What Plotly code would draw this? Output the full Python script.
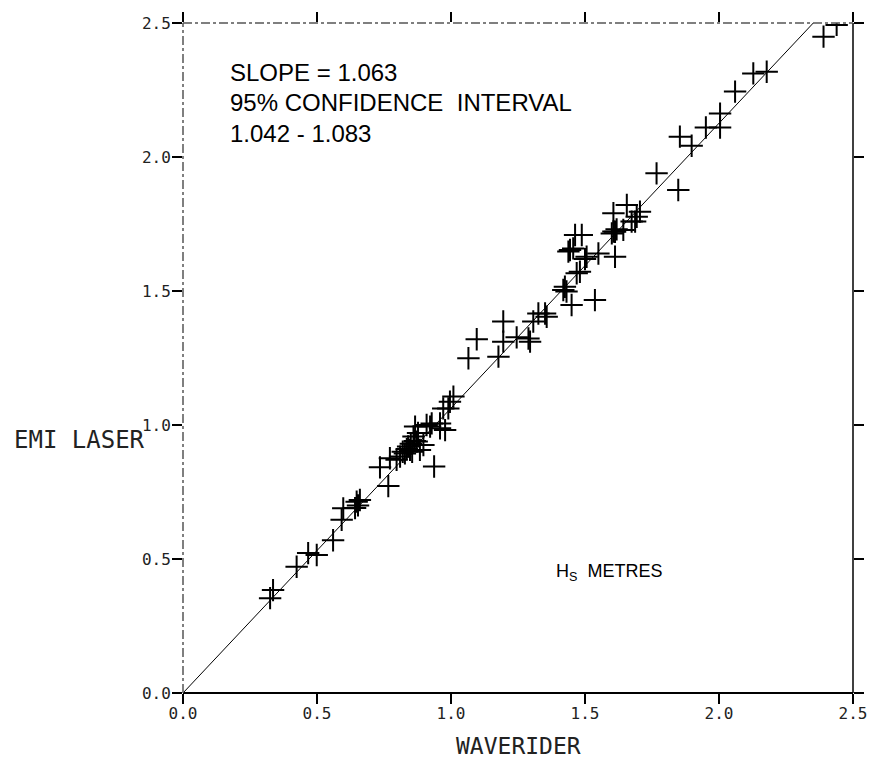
import plotly.graph_objects as go

waverider = [0.325, 0.336, 0.424, 0.467, 0.499, 0.560, 0.592, 0.598, 0.642, 0.648, 0.653, 0.660,
             0.735, 0.766, 0.772, 0.797, 0.810,
             0.820, 0.828, 0.835, 0.840, 0.847, 0.850, 0.855, 0.860, 0.865, 0.872, 0.866, 0.877, 0.884, 0.897,
             0.909, 0.922, 0.928, 0.937, 0.959, 0.959, 0.978, 0.971, 0.990, 0.996, 1.009,
             1.065, 1.096, 1.177, 1.195, 1.195, 1.245, 1.289, 1.295, 1.307, 1.326, 1.351, 1.357,
             1.419, 1.425, 1.431, 1.450, 1.537, 1.469, 1.481, 1.500, 1.506, 1.550, 1.612, 1.438, 1.444, 1.456,
             1.463, 1.488, 1.600, 1.606, 1.612, 1.618, 1.643, 1.606, 1.656, 1.674, 1.693, 1.705, 1.687,
             1.767, 1.848, 1.854, 1.898, 1.951, 2.004, 2.004, 2.060, 2.128, 2.178, 2.390, 2.439]
emi_laser = [0.354, 0.384, 0.471, 0.522, 0.515, 0.570, 0.646, 0.689, 0.690, 0.714, 0.700, 0.720,
             0.842, 0.772, 0.876, 0.870, 0.882,
             0.900, 0.894, 0.910, 0.920, 0.907, 0.930, 0.900, 0.957, 0.940, 0.938, 0.994, 0.970, 0.907, 0.925,
             1.000, 0.994, 1.006, 0.845, 1.006, 0.988, 0.981, 1.062, 1.062, 1.087, 1.106,
             1.249, 1.320, 1.255, 1.386, 1.311, 1.327, 1.323, 1.311, 1.386, 1.416, 1.416, 1.404,
             1.504, 1.516, 1.498, 1.448, 1.466, 1.566, 1.572, 1.619, 1.628, 1.640, 1.628, 1.647, 1.653, 1.659,
             1.709, 1.709, 1.715, 1.722, 1.721, 1.730, 1.728, 1.790, 1.821, 1.759, 1.777, 1.796, 1.759,
             1.939, 1.877, 2.076, 2.042, 2.110, 2.110, 2.162, 2.244, 2.312, 2.318, 2.449, 2.493]

slope = 1.063
line_x = [0.0, 2.5 / slope]
line_y = [0.0, 2.5]

tick_vals = [0.0, 0.5, 1.0, 1.5, 2.0, 2.5]
tick_text = ["0.0", "0.5", "1.0", "1.5", "2.0", "2.5"]

fig = go.Figure()
fig.add_trace(go.Scatter(x=line_x, y=line_y, mode="lines",
                         line=dict(color="black", width=1), hoverinfo="skip"))
fig.add_trace(go.Scatter(x=waverider, y=emi_laser, mode="markers",
                         marker=dict(symbol="cross-thin", size=16,
                                     line=dict(color="black", width=2))))

mono = "DejaVu Sans Mono"
axis_common = dict(range=[0, 2.5], tickvals=tick_vals, ticktext=tick_text,
                   ticks="outside", ticklen=10, tickwidth=1.5, tickcolor="black",
                   showline=False, mirror="ticks", showgrid=False, zeroline=False,
                   automargin=False,
                   tickfont=dict(family=mono, size=16, color="#222"))
fig.update_layout(
    width=870, height=776,
    margin=dict(l=183, r=17, t=23, b=83),
    paper_bgcolor="white", plot_bgcolor="white",
    showlegend=False,
    xaxis=dict(**axis_common, ticklabelstandoff=-4),
    yaxis=dict(**axis_common, ticklabelstandoff=-2),
)

# frame
fig.add_shape(type="line", xref="paper", yref="paper", x0=0, x1=1, y0=0, y1=0,
              line=dict(color="black", width=2))
fig.add_shape(type="line", xref="paper", yref="paper", x0=1, x1=1, y0=0, y1=1,
              line=dict(color="black", width=1.5))
fig.add_shape(type="line", xref="paper", yref="paper", x0=0, x1=0, y0=0, y1=1,
              line=dict(color="#555", width=1.5, dash="dashdot"))
fig.add_shape(type="line", xref="paper", yref="paper", x0=0, x1=1, y0=1, y1=1,
              line=dict(color="#555", width=1.5, dash="dashdot"))

sans = "Liberation Sans"
fig.add_annotation(x=0.168, y=2.317, xref="x", yref="y", text="SLOPE = 1.063",
                   showarrow=False, xanchor="left", yanchor="middle",
                   font=dict(family=sans, size=24, color="black"))
fig.add_annotation(x=0.168, y=2.205, xref="x", yref="y", text="95% CONFIDENCE  INTERVAL",
                   showarrow=False, xanchor="left", yanchor="middle",
                   font=dict(family=sans, size=24, color="black"))
fig.add_annotation(x=0.168, y=2.086, xref="x", yref="y", text="1.042 - 1.083",
                   showarrow=False, xanchor="left", yanchor="middle",
                   font=dict(family=sans, size=24, color="black"))
fig.add_annotation(x=1.385, y=0.448, xref="x", yref="y", text="H<sub>S</sub>  METRES",
                   showarrow=False, xanchor="left", yanchor="middle",
                   font=dict(family=sans, size=18, color="black"))

fig.add_annotation(x=-0.154, y=0.378, xref="paper", yref="paper", text="EMI LASER",
                   showarrow=False, xanchor="center", yanchor="middle",
                   font=dict(family=mono, size=24, color="#222"))
fig.add_annotation(x=0.5, y=-0.079, xref="paper", yref="paper", text="WAVERIDER",
                   showarrow=False, xanchor="center", yanchor="middle",
                   font=dict(family=mono, size=23, color="#222"))

fig.write_html("out.html")
